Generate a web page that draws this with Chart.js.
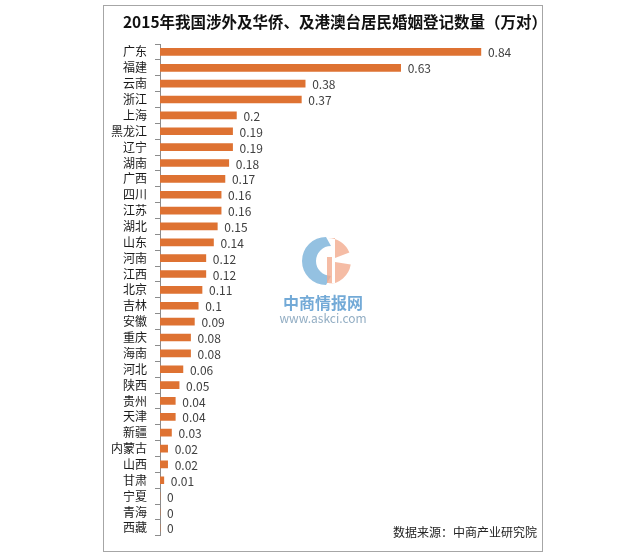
<!DOCTYPE html>
<html>
<head>
<meta charset="utf-8">
<title>涉外婚姻登记数量</title>
<script src="https://cdn.jsdelivr.net/npm/chart.js"></script>
<style>
    body { margin: 0; background: #fff; }
    #box {
        position: absolute; left: 103px; top: 5px;
        width: 440px; height: 547px;
        box-sizing: border-box;
        border: 1px solid #a6a6a6;
    }
</style>
</head>
<body>
<div id="box"><canvas id="marriageChart"></canvas></div>
<script>
    const provinces = ['广东','福建','云南','浙江','上海','黑龙江','辽宁','湖南','广西','四川','江苏',
        '湖北','山东','河南','江西','北京','吉林','安徽','重庆','海南','河北','陕西','贵州','天津',
        '新疆','内蒙古','山西','甘肃','宁夏','青海','西藏'];
    const counts = [0.84,0.63,0.38,0.37,0.2,0.19,0.19,0.18,0.17,0.16,0.16,
        0.15,0.14,0.12,0.12,0.11,0.1,0.09,0.08,0.08,0.06,0.05,0.04,0.04,
        0.03,0.02,0.02,0.01,0,0,0];
    const titleText = '2015年我国涉外及华侨、及港澳台居民婚姻登记数量（万对）';
    const sourceText = '数据来源：中商产业研究院';

    const cjk = '"Noto Sans CJK SC", "Noto Sans", sans-serif';

    // value labels after each bar
    const valueLabels = {
        id: 'valueLabels',
        afterDatasetsDraw(chart) {
            const ctx = chart.ctx;
            const meta = chart.getDatasetMeta(0);
            ctx.save();
            ctx.font = '12px ' + cjk;
            ctx.fillStyle = '#404040';
            ctx.textAlign = 'left';
            ctx.textBaseline = 'middle';
            meta.data.forEach((bar, i) => {
                ctx.fillText(String(counts[i]), bar.x + 7, bar.y + 1);
            });
            ctx.restore();
        }
    };

    // title (sits a bit right of centre in the original), watermark, source note
    const extras = {
        id: 'extras',
        afterDraw(chart) {
            const ctx = chart.ctx;
            ctx.save();
            ctx.textAlign = 'center';
            ctx.textBaseline = 'middle';
            ctx.fillStyle = '#111';
            ctx.font = 'bold 15.5px ' + cjk;
            ctx.fillText(titleText, 231, 16);

            // logo, page centre (326,261) -> canvas (222,255)
            const cx = 222, cy = 255;
            ctx.globalAlpha = 0.8;
            ctx.fillStyle = '#79b2da';
            ctx.beginPath();
            ctx.arc(cx, cy, 24, Math.PI * 0.5, Math.PI * 1.5);
            ctx.arc(cx + 5, cy, 15, Math.PI * 1.5, Math.PI * 0.5, true);
            ctx.closePath();
            ctx.fill();
            ctx.fillStyle = '#f3ab8f';
            ctx.beginPath();
            ctx.arc(cx + 2, cy, 23, -Math.PI * 0.5, -Math.PI * 0.12);
            ctx.lineTo(cx + 9, cy - 3);
            ctx.lineTo(cx + 9, cy - 23);
            ctx.closePath();
            ctx.fill();
            ctx.beginPath();
            ctx.arc(cx + 2, cy, 23, Math.PI * 0.05, Math.PI * 0.5);
            ctx.lineTo(cx + 9, cy + 22);
            ctx.lineTo(cx + 9, cy + 1);
            ctx.closePath();
            ctx.fill();
            ctx.fillRect(cx + 1, cy - 4, 5, 26);
            ctx.globalAlpha = 0.85;
            ctx.fillStyle = '#5b9bd0';
            ctx.font = 'bold 16px ' + cjk;
            ctx.fillText('中商情报网', 219, 297);
            ctx.fillStyle = '#7f9fb8';
            ctx.font = '12px ' + cjk;
            ctx.fillText('www.askci.com', 219, 312);
            ctx.globalAlpha = 1;
            ctx.fillStyle = '#222';
            ctx.textAlign = 'right';
            ctx.font = '12px ' + cjk;
            ctx.fillText(sourceText, 433, 526);
            ctx.restore();
        }
    };

    new Chart(document.getElementById('marriageChart'), {
        type: 'bar',
        data: {
            labels: provinces,
            datasets: [{
                label: '婚姻登记数量',
                data: counts,
                backgroundColor: '#de7232',
                barThickness: 7
            }]
        },
        options: {
            indexAxis: 'y',
            responsive: true,
            maintainAspectRatio: false,
            animation: false,
            layout: { padding: { left: 0, right: 0, top: 38, bottom: 15 } },
            plugins: {
                legend: { display: false },
                tooltip: { enabled: false },
                title: { display: false }
            },
            scales: {
                x: { display: false, min: 0, max: 1.0 },
                y: {
                    afterFit(scale) { scale.width = 56; },
                    grid: {
                        display: true,
                        drawOnChartArea: false,
                        offset: true,
                        tickLength: 5,
                        color: '#8c8c8c'
                    },
                    border: { display: true, color: '#8c8c8c' },
                    ticks: {
                        autoSkip: false,
                        color: '#1a1a1a',
                        padding: 8,
                        font: { family: cjk, size: 12 }
                    }
                }
            }
        },
        plugins: [valueLabels, extras]
    });
</script>
</body>
</html>
